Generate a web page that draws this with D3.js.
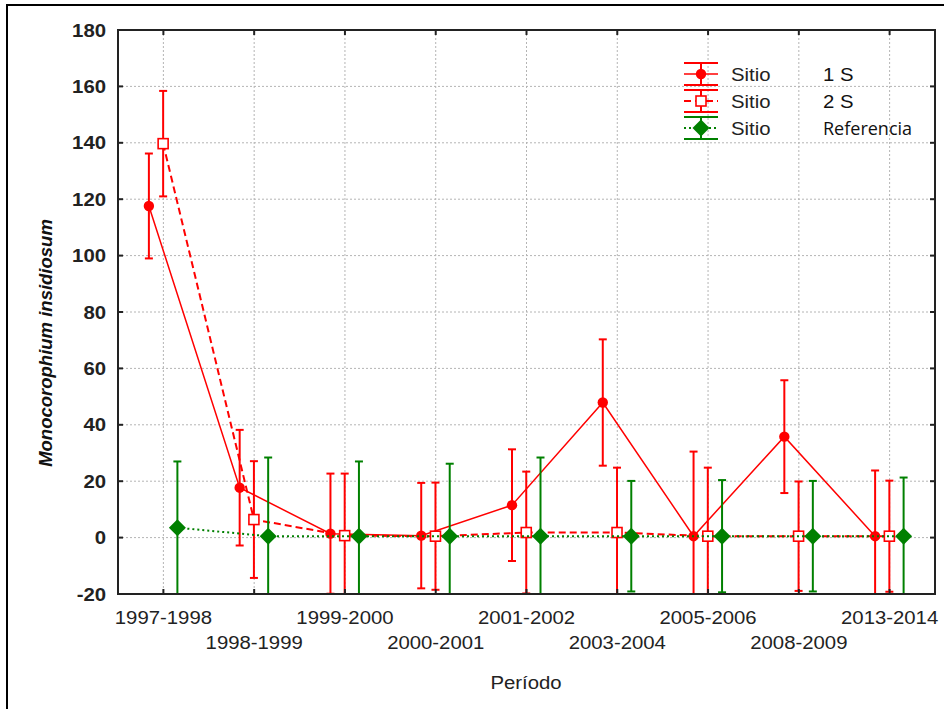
<!DOCTYPE html>
<html>
<head>
<meta charset="utf-8">
<script src="https://cdn.jsdelivr.net/npm/d3@7"></script>
<style>
  html, body { margin: 0; padding: 0; background: #fff; }
  text { font-family: Arial, "Liberation Sans", sans-serif; }
</style>
</head>
<body>
<div id="chart"></div>
<script>
// -------- Data --------
const periods = ['1997-1998', '1998-1999', '1999-2000', '2000-2001', '2001-2002',
                 '2003-2004', '2005-2006', '2008-2009', '2013-2014'];
const yTicks = [-20, 0, 20, 40, 60, 80, 100, 120, 140, 160, 180];

const sitio1Mean = [117.6, 17.7, 1.4, 0.7, 11.5, 47.9, 0.5, 35.8, 0.5];
const sitio1Err  = [18.6, 20.5, 21.3, 18.7, 19.8, 22.4, 30.0, 20.0, 23.3];
const sitio2Mean = [139.7, 6.4, 0.7, 0.5, 1.8, 1.8, 0.5, 0.5, 0.5];
const sitio2Err  = [18.7, 20.7, 22.0, 19.0, 21.6, 23.0, 24.3, 19.4, 19.7];
const refMean    = [3.5, 0.5, 0.5, 0.5, 0.5, 0.5, 0.5, 0.5, 0.5];
const refErr     = [23.5, 27.9, 26.5, 25.7, 27.9, 19.6, 19.9, 19.6, 20.8];

const seriesNames = ['1 S', '2 S', 'Referencia'];

const series = [
  { name: '1 S', mean: sitio1Mean, err: sitio1Err, color: '#ff0000', dash: null, marker: 'circle' },
  { name: '2 S', mean: sitio2Mean, err: sitio2Err, color: '#ff0000', dash: '7,4', marker: 'square' },
  { name: 'Referencia', mean: refMean, err: refErr, color: '#008000', dash: '2,3', marker: 'diamond' }
];

// -------- Dimensions --------
const svgWidth = 944, svgHeight = 709;
const plot = { left: 118, top: 30, right: 935, bottom: 594 };
const sx = 1.13; // horizontal stretch of the original export

const svg = d3.select('#chart').append('svg')
  .attr('width', svgWidth).attr('height', svgHeight);

svg.append('rect').attr('width', svgWidth).attr('height', svgHeight).attr('fill', '#fff');

// outer border (left + top only)
svg.append('path')
  .attr('d', `M7,${svgHeight} V5 H${svgWidth}`)
  .attr('fill', 'none').attr('stroke', '#000').attr('stroke-width', 2);

// -------- Scales --------
const x = d3.scalePoint().domain(periods).range([plot.left, plot.right]).padding(0.5);
const y = d3.scaleLinear().domain([-20, 180]).range([plot.bottom, plot.top]);
const offset = d3.scalePoint().domain(seriesNames).range([-14.5, 14]);

// -------- Grid --------
const grid = svg.append('g').attr('stroke', '#b4b4b4').attr('stroke-width', 1)
  .attr('stroke-dasharray', '2,2');
grid.selectAll('line.h').data(yTicks.filter(d => d > -20 && d < 180)).join('line')
  .attr('x1', plot.left).attr('x2', plot.right)
  .attr('y1', d => y(d)).attr('y2', d => y(d));
grid.selectAll('line.v').data(periods).join('line')
  .attr('x1', d => x(d)).attr('x2', d => x(d))
  .attr('y1', plot.top).attr('y2', plot.bottom);

// -------- Clip --------
svg.append('clipPath').attr('id', 'clip')
  .append('rect').attr('x', plot.left).attr('y', plot.top)
  .attr('width', plot.right - plot.left).attr('height', plot.bottom - plot.top);

const marks = svg.append('g').attr('clip-path', 'url(#clip)');

const diamond = r => `M0,${-r} L${r},0 L0,${r} L${-r},0 Z`;

function drawMarker(g, type, color) {
  if (type === 'circle') {
    g.append('circle').attr('r', 5.2).attr('fill', color);
  } else if (type === 'square') {
    g.append('rect').attr('x', -5).attr('y', -5).attr('width', 10).attr('height', 10)
      .attr('fill', '#fff').attr('stroke', color).attr('stroke-width', 1.6);
  } else {
    g.append('path').attr('d', diamond(8.5)).attr('fill', color);
  }
}

series.forEach(s => {
  const px = (d, i) => x(periods[i]) + offset(s.name);
  const g = marks.append('g');

  // connecting line
  g.append('path')
    .datum(s.mean)
    .attr('fill', 'none')
    .attr('stroke', s.color)
    .attr('stroke-width', s.marker === 'circle' ? 1.5 : 2)
    .attr('stroke-dasharray', s.dash)
    .attr('d', d3.line().x(px).y(d => y(d)));

  // error bars
  const eb = g.append('g').attr('stroke', s.color).attr('stroke-width', 2);
  s.mean.forEach((m, i) => {
    const cx = px(m, i);
    const hi = y(m + s.err[i]), lo = y(m - s.err[i]);
    eb.append('line').attr('x1', cx).attr('x2', cx).attr('y1', hi).attr('y2', lo);
    eb.append('line').attr('x1', cx - 4).attr('x2', cx + 4).attr('y1', hi).attr('y2', hi);
    eb.append('line').attr('x1', cx - 4).attr('x2', cx + 4).attr('y1', lo).attr('y2', lo);
  });

  // markers
  s.mean.forEach((m, i) => {
    const mg = g.append('g').attr('transform', `translate(${px(m, i)},${y(m)})`);
    drawMarker(mg, s.marker, s.color);
  });
});

// -------- Frame & ticks --------
const frame = svg.append('g').attr('stroke', '#222').attr('stroke-width', 2);
frame.append('rect')
  .attr('x', plot.left).attr('y', plot.top)
  .attr('width', plot.right - plot.left).attr('height', plot.bottom - plot.top)
  .attr('fill', 'none');
yTicks.forEach(t => {
  frame.append('line').attr('x1', plot.left).attr('x2', plot.left + 5).attr('y1', y(t)).attr('y2', y(t));
  frame.append('line').attr('x1', plot.right - 5).attr('x2', plot.right).attr('y1', y(t)).attr('y2', y(t));
});
periods.forEach(p => {
  frame.append('line').attr('x1', x(p)).attr('x2', x(p)).attr('y1', plot.bottom).attr('y2', plot.bottom - 5);
  frame.append('line').attr('x1', x(p)).attr('x2', x(p)).attr('y1', plot.top).attr('y2', plot.top + 5);
});

// -------- Axis labels --------
svg.append('g').selectAll('text').data(yTicks).join('text')
  .attr('transform', d => `translate(106,${y(d) + 6.5}) scale(${sx},1)`)
  .attr('text-anchor', 'end')
  .style('font-size', '18px').style('font-weight', 'bold').attr('fill', '#222')
  .text(d => d);

svg.append('g').selectAll('text').data(periods).join('text')
  .attr('transform', (d, i) => `translate(${x(d)},${i % 2 === 0 ? 623.5 : 648.5}) scale(${sx},1)`)
  .attr('text-anchor', 'middle')
  .style('font-size', '18px').attr('fill', '#222')
  .text(d => d);

svg.append('text')
  .attr('transform', `translate(526,689) scale(${sx},1)`)
  .attr('text-anchor', 'middle')
  .style('font-size', '18px').attr('fill', '#222')
  .text('Período');

svg.append('text')
  .attr('transform', 'translate(52,343) rotate(-90)')
  .attr('text-anchor', 'middle')
  .style('font-size', '18.5px').style('font-weight', 'bold').style('font-style', 'italic')
  .attr('fill', '#111')
  .text('Monocorophium insidiosum');

// -------- Legend --------
const legend = svg.append('g').attr('transform', 'translate(701,74)');
series.forEach((s, i) => {
  const row = legend.append('g').attr('transform', `translate(0,${i * 27})`);
  row.append('line').attr('x1', -17).attr('x2', 17).attr('y1', 0).attr('y2', 0)
    .attr('stroke', s.color).attr('stroke-width', s.marker === 'circle' ? 1.5 : 2)
    .attr('stroke-dasharray', s.dash);
  row.append('line').attr('x1', 0).attr('x2', 0).attr('y1', -11).attr('y2', 11)
    .attr('stroke', s.color).attr('stroke-width', 2);
  row.append('line').attr('x1', -17).attr('x2', 17).attr('y1', -11).attr('y2', -11)
    .attr('stroke', s.color).attr('stroke-width', 2);
  row.append('line').attr('x1', -17).attr('x2', 17).attr('y1', 11).attr('y2', 11)
    .attr('stroke', s.color).attr('stroke-width', 2);
  drawMarker(row.append('g'), s.marker, s.color);
  row.append('text')
    .attr('transform', `translate(30,6.5) scale(${sx},1)`)
    .style('font-size', '18px').attr('fill', '#222')
    .text('Sitio');
  row.append('text')
    .attr('transform', s.name === 'Referencia' ? 'translate(122,6.5)' : `translate(122,6.5) scale(${sx},1)`)
    .style('font-size', s.name === 'Referencia' ? '18px' : '18px')
    .style('font-family', s.name === 'Referencia' ? '"Open Sans", sans-serif' : null)
    .attr('fill', '#111')
    .text(s.name);
});
</script>
</body>
</html>
